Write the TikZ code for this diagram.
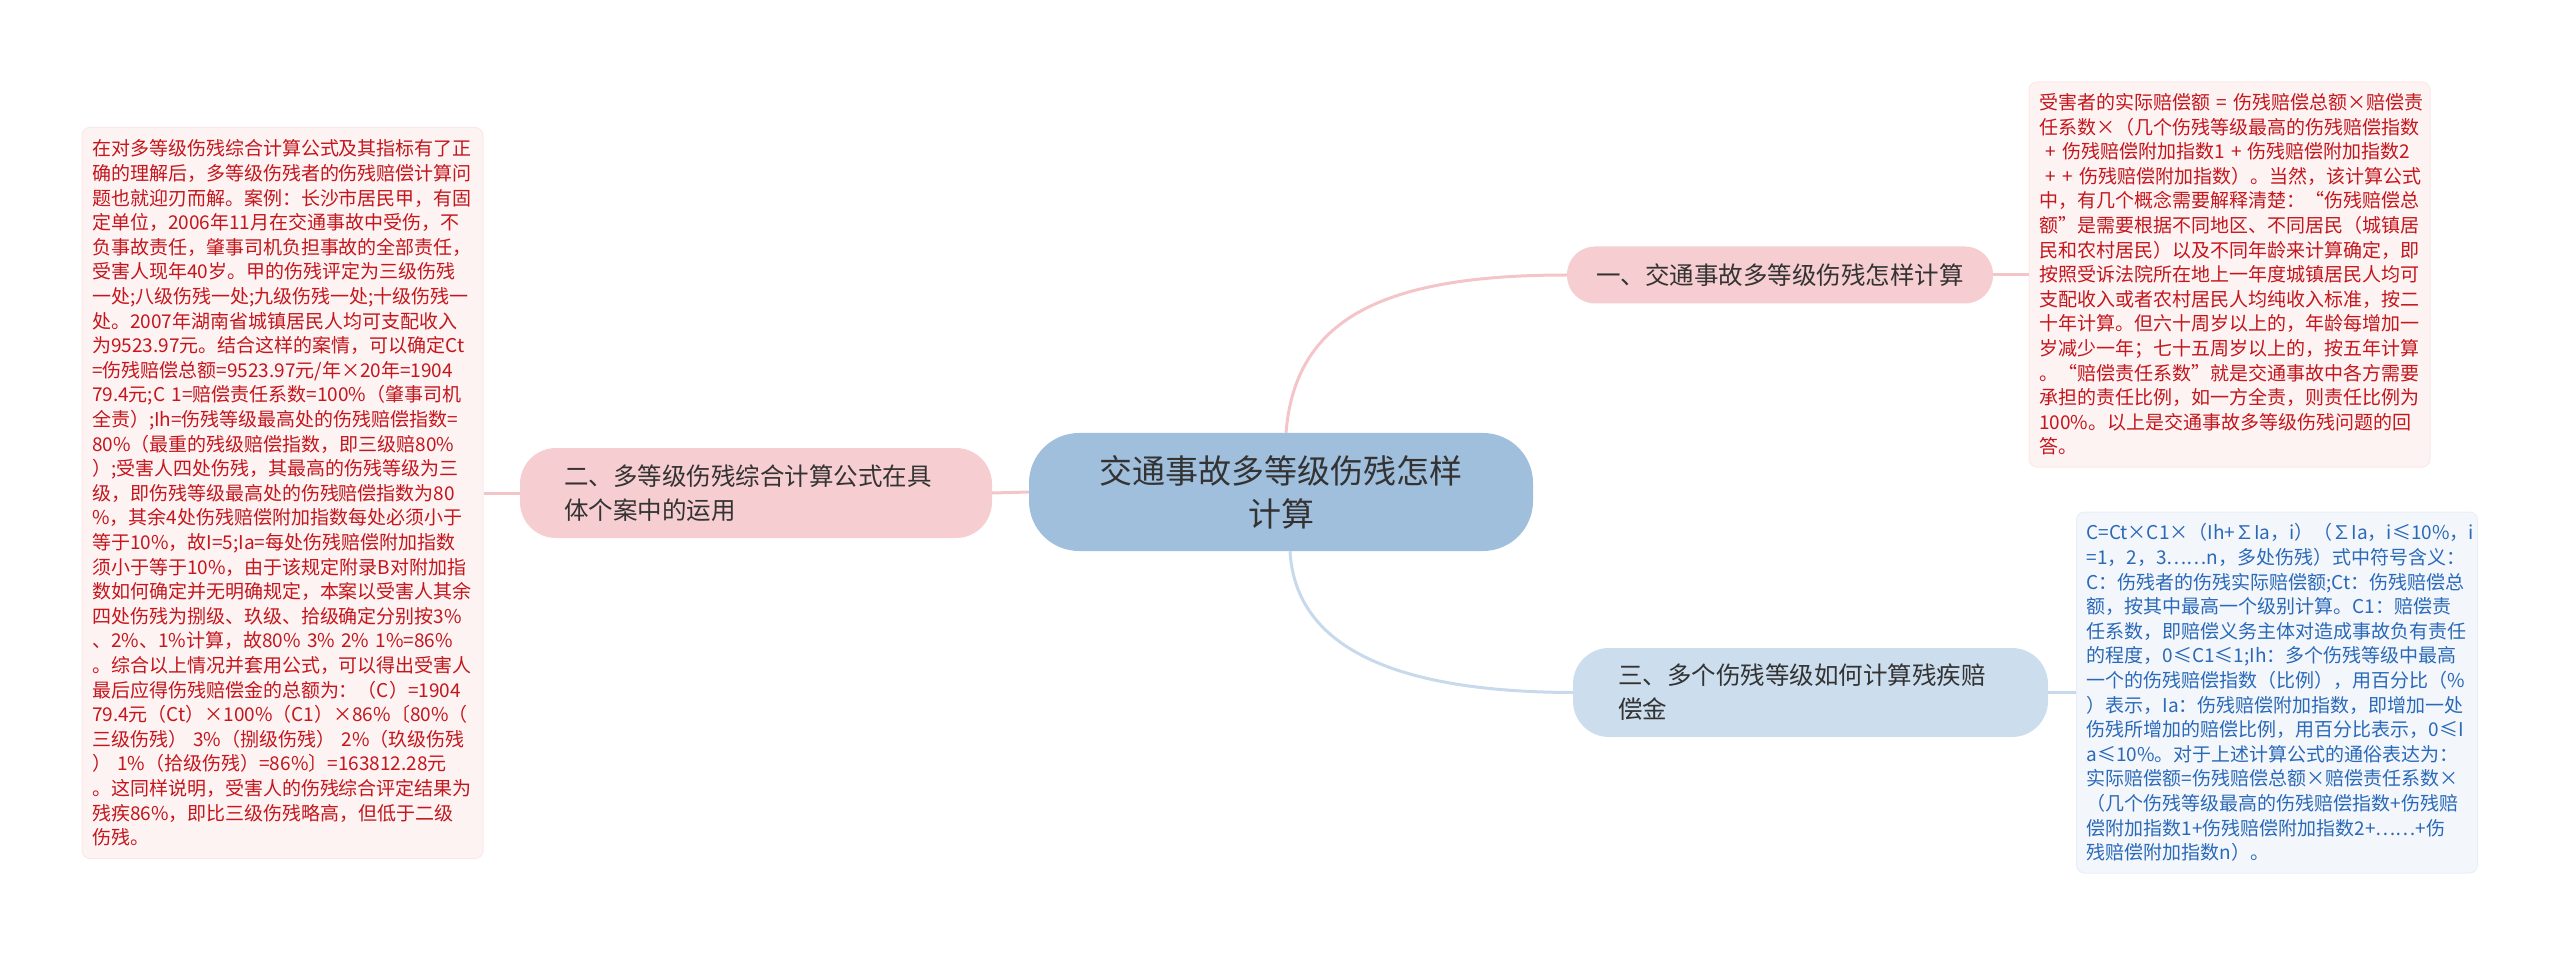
\documentclass[tikz,border=0pt]{standalone}
\usepackage{fontspec}
\setmainfont{Noto Sans CJK SC}
\definecolor{pinkfill}{HTML}{F6CDD0}
\definecolor{pinkline}{HTML}{F4C5C8}
\definecolor{centerfill}{HTML}{A0BFDC}
\definecolor{bluefill}{HTML}{CCDDEE}
\definecolor{blueline}{HTML}{C7D9EB}
\definecolor{notepink}{HTML}{FDF3F3}
\definecolor{notepinkb}{HTML}{FAE8E9}
\definecolor{noteblue}{HTML}{F3F7FC}
\definecolor{noteblueb}{HTML}{E6EFF8}
\definecolor{redtext}{HTML}{C4161C}
\definecolor{bluetext}{HTML}{2A69B8}
\definecolor{darktext}{HTML}{333333}
\tikzset{
  notebox/.style={draw=notepinkb, fill=notepink, line width=1pt, rounded corners=8pt,
    inner xsep=10pt, inner ysep=6pt, text width=381pt, align=left, text=redtext,
    font=\fontsize{19}{24.6}\selectfont},
  noteboxblue/.style={notebox, draw=noteblueb, fill=noteblue, text=bluetext},
  topicpink/.style={fill=pinkfill, rounded corners=30pt, text=darktext,
    font=\fontsize{24.5}{34}\selectfont},
  topicblue/.style={topicpink, fill=bluefill},
  centernode/.style={fill=centerfill, rounded corners=50pt, text=darktext,
    minimum width=504pt, minimum height=118pt, align=center,
    font=\fontsize{33}{43}\selectfont},
  linkpink/.style={draw=pinkline, line width=3pt},
  linkblue/.style={draw=blueline, line width=3pt},
}
\begin{document}
\begin{tikzpicture}[x=1pt,y=-1pt]
\useasboundingbox (0,0) rectangle (2560,957);

\node[centernode] (c) at (1281,492) {交通事故多等级伤残怎样\\计算};

\node[topicpink, minimum width=426pt, minimum height=57pt, rounded corners=28pt] (t1) at (1780,275) {一、交通事故多等级伤残怎样计算};

\node[topicpink, minimum height=90pt, inner xsep=44pt, text width=384pt, align=left, rounded corners=36pt] (t2) at (756,493) {二、多等级伤残综合计算公式在具\\体个案中的运用};

\node[topicblue, minimum height=89pt, inner xsep=45pt, text width=385pt, align=left, rounded corners=36pt] (t3) at (1810.5,692.5) {三、多个伤残等级如何计算残疾赔\\偿金};

\node[notebox, minimum height=731pt] (n2) at (282.5,493) {在对多等级伤残综合计算公式及其指标有了正\\
确的理解后，多等级伤残者的伤残赔偿计算问\\
题也就迎刃而解。案例：长沙市居民甲，有固\\
定单位，2006年11月在交通事故中受伤，不\\
负事故责任，肇事司机负担事故的全部责任，\\
受害人现年40岁。甲的伤残评定为三级伤残\\
一处;八级伤残一处;九级伤残一处;十级伤残一\\
处。2007年湖南省城镇居民人均可支配收入\\
为9523.97元。结合这样的案情，可以确定Ct\\
=伤残赔偿总额=9523.97元/年×20年=1904\\
79.4元;C~1=赔偿责任系数=100\%（肇事司机\\
全责）;Ih=伤残等级最高处的伤残赔偿指数=\\
80\%（最重的残级赔偿指数，即三级赔80\%\\
）;受害人四处伤残，其最高的伤残等级为三\\
级，即伤残等级最高处的伤残赔偿指数为80\\
\%，其余4处伤残赔偿附加指数每处必须小于\\
等于10\%，故I=5;Ia=每处伤残赔偿附加指数\\
须小于等于10\%，由于该规定附录B对附加指\\
数如何确定并无明确规定，本案以受害人其余\\
四处伤残为捌级、玖级、拾级确定分别按3\%\\
、2\%、1\%计算，故80\%~3\%~2\%~1\%=86\%\\
。综合以上情况并套用公式，可以得出受害人\\
最后应得伤残赔偿金的总额为：（C）=1904\\
79.4元（Ct）×100\%（C1）×86\%〔80\%（\\
三级伤残）~3\%（捌级伤残）~2\%（玖级伤残\\
）~1\%（拾级伤残）=86\%〕=163812.28元\\
。这同样说明，受害人的伤残综合评定结果为\\
残疾86\%，即比三级伤残略高，但低于二级\\
伤残。};

\node[notebox, minimum height=385pt] (n1) at (2229.5,274.5) {受害者的实际赔偿额~=~伤残赔偿总额×赔偿责\\
任系数×（几个伤残等级最高的伤残赔偿指数\\
~+~伤残赔偿附加指数1~+~伤残赔偿附加指数2\\
~+~+~伤残赔偿附加指数）。当然，该计算公式\\
中，有几个概念需要解释清楚：“伤残赔偿总\\
额”是需要根据不同地区、不同居民（城镇居\\
民和农村居民）以及不同年龄来计算确定，即\\
按照受诉法院所在地上一年度城镇居民人均可\\
支配收入或者农村居民人均纯收入标准，按二\\
十年计算。但六十周岁以上的，年龄每增加一\\
岁减少一年；七十五周岁以上的，按五年计算\\
。“赔偿责任系数”就是交通事故中各方需要\\
承担的责任比例，如一方全责，则责任比例为\\
100\%。以上是交通事故多等级伤残问题的回\\
答。};

\node[noteboxblue, minimum height=361pt] (n3) at (2277,692.5) {C=Ct×C1×（Ih+∑Ia，i）（∑Ia，i≤10\%，i\\
=1，2，3……n，多处伤残）式中符号含义：\\
C：伤残者的伤残实际赔偿额;Ct：伤残赔偿总\\
额，按其中最高一个级别计算。C1：赔偿责\\
任系数，即赔偿义务主体对造成事故负有责任\\
的程度，0≤C1≤1;Ih：多个伤残等级中最高\\
一个的伤残赔偿指数（比例），用百分比（\%\\
）表示，Ia：伤残赔偿附加指数，即增加一处\\
伤残所增加的赔偿比例，用百分比表示，0≤I\\
a≤10\%。对于上述计算公式的通俗表达为：\\
实际赔偿额=伤残赔偿总额×赔偿责任系数×\\
（几个伤残等级最高的伤残赔偿指数+伤残赔\\
偿附加指数1+伤残赔偿附加指数2+……+伤\\
残赔偿附加指数n）。};

% connectors
\draw[linkpink] (c.west) -- (t2.east);
\draw[linkpink] (t2.west) -- (t2.west -| n2.east);
\draw[linkpink] ([xshift=5pt]c.north) .. controls (1295,320) and (1380,275) .. (t1.west);
\draw[linkpink] (t1.east) -- (t1.east -| n1.west);
\draw[linkblue] ([xshift=9pt]c.south) .. controls (1295,640) and (1380,692) .. (t3.west);
\draw[linkblue] (t3.east) -- (t3.east -| n3.west);
\end{tikzpicture}
\end{document}
